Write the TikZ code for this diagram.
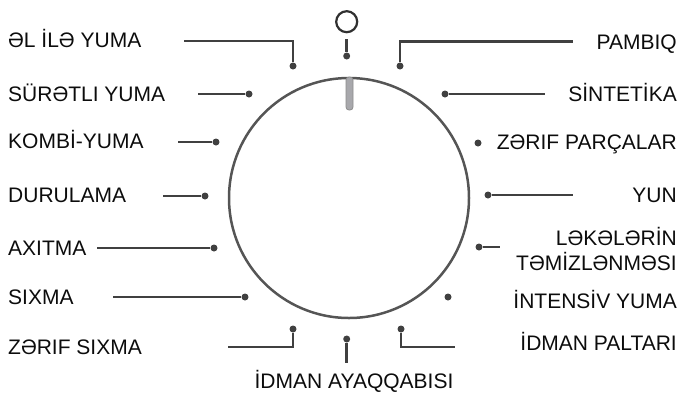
\documentclass[tikz,border=0pt]{standalone}
\usepackage{fontspec}
\setmainfont{Liberation Sans}
\definecolor{dlgray}{RGB}{64,64,64}
\definecolor{dlring}{RGB}{85,85,85}
\definecolor{dltext}{RGB}{12,12,12}
\definecolor{dlknob}{RGB}{168,168,172}
\definecolor{dlknobedge}{RGB}{140,140,140}
\usetikzlibrary{positioning}

\begin{document}
\begin{tikzpicture}[
  x=1pt,y=-1pt,
  every node/.style={font=\fontsize{21}{25}\selectfont,text=dltext},
  lbl/.style={inner sep=0pt},
  pin/.style={circle,fill=dlgray,inner sep=0pt,minimum size=7pt},
  lead/.style={dlgray,line width=2.5pt},
]
  \useasboundingbox (0,0) rectangle (683,392);

  % Dial
  \node[circle,draw=dlring,line width=2.5pt,minimum size=240pt,inner sep=0pt] (dial) at (349,198) {};
  \node[draw=dlknobedge,fill=dlknob,rounded corners=3pt,line width=0.8pt,
        minimum width=7pt,minimum height=33pt,inner sep=0pt] (knob) at (349.5,93.5) {};

  % Off position
  \node[circle,draw=dltext!85,line width=2.2pt,minimum size=21pt,inner sep=0pt] (off) at (346.7,21.7) {};
  \node[pin] (p0) at (346.7,56) {};
  \coordinate (e0) at (346.7,39);
  \draw[lead] (p0) -- (e0);

  % Left programmes
  \node[lbl,anchor=base west] (l1) at (8,47)    {ƏL İLƏ YUMA};
  \node[lbl,anchor=base west] (l2) at (8,101.5) {SÜRƏTLI YUMA};
  \node[lbl,anchor=base west] (l3) at (8,148.5) {KOMBİ-YUMA};
  \node[lbl,anchor=base west] (l4) at (8,202)   {DURULAMA};
  \node[lbl,anchor=base west] (l5) at (8,255)   {AXITMA};
  \node[lbl,anchor=base west] (l6) at (8,304)   {SIXMA};
  \node[lbl,anchor=base west] (l7) at (8,354)   {ZƏRIF SIXMA};

  \node[pin] (p1) at (293,66)  {};
  \node[pin] (p2) at (249,94)  {};
  \node[pin] (p3) at (216,142) {};
  \node[pin] (p4) at (205,196) {};
  \node[pin] (p5) at (214,248) {};
  \node[pin] (p6) at (245,297) {};
  \node[pin] (p7) at (293,329) {};

  \coordinate (e1) at (184,41);
  \coordinate (e2) at (198,94);
  \coordinate (e3) at (178,142);
  \coordinate (e4) at (163,196);
  \coordinate (e5) at (97,248);
  \coordinate (e6) at (113,297);
  \coordinate (e7) at (228,347);

  \draw[lead] (p1) |- (e1);
  \draw[lead] (p2) -- (e2);
  \draw[lead] (p3) -- (e3);
  \draw[lead] (p4) -- (e4);
  \draw[lead] (p5) -- (e5);
  \draw[lead] (p6) -- (e6);
  \draw[lead] (p7) |- (e7);

  % Bottom programme
  \node[lbl,anchor=base] (l8) at (354,388) {İDMAN AYAQQABISI};
  \node[pin] (p8) at (346.7,339) {};
  \coordinate (e8) at (346.7,363);
  \draw[lead] (p8) -- (e8);

  % Right programmes
  \node[lbl,anchor=base east] (r1) at (677,49)    {PAMBIQ};
  \node[lbl,anchor=base east] (r2) at (677,101.7) {SİNTETİKA};
  \node[lbl,anchor=base east] (r3) at (677,149.5) {ZƏRIF PARÇALAR};
  \node[lbl,anchor=base east] (r4) at (677,202)   {YUN};
  \node[lbl,anchor=east,align=right] (r5) at (677,249) {LƏKƏLƏRİN\\TƏMİZLƏNMƏSI};
  \node[lbl,anchor=base east] (r6) at (677,308)   {İNTENSİV YUMA};
  \node[lbl,anchor=base east] (r7) at (677,350)   {İDMAN PALTARI};

  \node[pin] (q1) at (400,66)  {};
  \node[pin] (q2) at (445,94)  {};
  \node[pin] (q3) at (478,143) {};
  \node[pin] (q4) at (488,195) {};
  \node[pin] (q5) at (479,247) {};
  \node[pin] (q6) at (448,297) {};
  \node[pin] (q7) at (401,329) {};

  \coordinate (f1) at (573,41.5);
  \coordinate (f2) at (545,94);
  \coordinate (f4) at (573,195);
  \coordinate (f5) at (500,247);
  \coordinate (f7) at (455,347);

  \draw[lead] (q1) |- (f1);
  \draw[lead] (q2) -- (f2);
  \draw[lead] (q4) -- (f4);
  \draw[lead] (q5) -- (f5);
  \draw[lead] (q7) |- (f7);
\end{tikzpicture}
\end{document}
